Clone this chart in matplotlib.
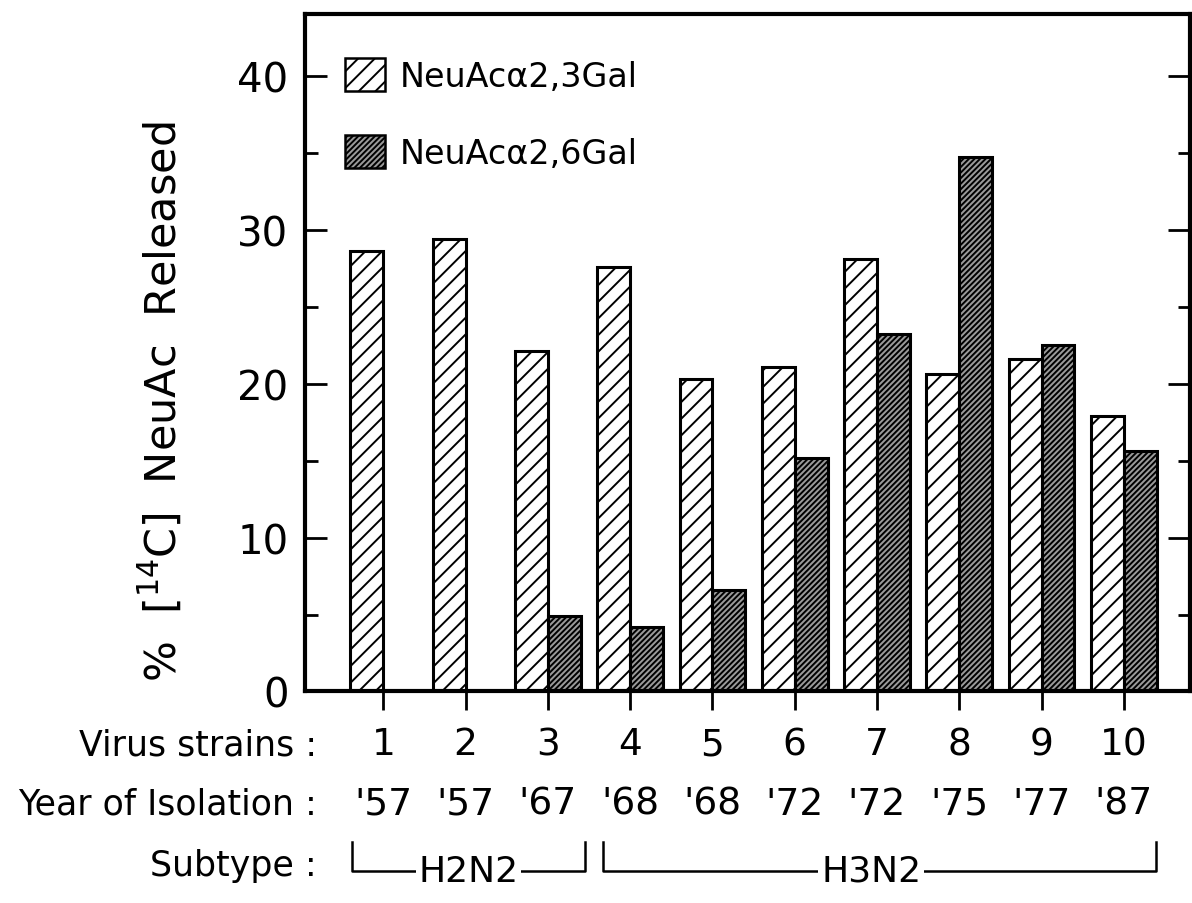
#!/usr/bin/env python3

import matplotlib
matplotlib.use("Agg")
import matplotlib.pyplot as plt
import matplotlib.patches as mpatches
import matplotlib.transforms as mtransforms
from matplotlib.ticker import MultipleLocator

# Data
strains = [1, 2, 3, 4, 5, 6, 7, 8, 9, 10]
years = ["'57", "'57", "'67", "'68", "'68", "'72", "'72", "'75", "'77", "'87"]
neuac_23 = [28.6, 29.4, 22.1, 27.6, 20.3, 21.1, 28.1, 20.6, 21.6, 17.9]
neuac_26 = [0.0, 0.0, 4.9, 4.2, 6.6, 15.2, 23.2, 34.7, 22.5, 15.6]
subtypes = ["H2N2", "H3N2"]
subtype_spans = [(0.62, 3.45), (3.67, 10.39)]

BAR_W = 0.4
DARK = "#9a9a9a"


def main():
    plt.rcParams["font.family"] = "DejaVu Sans"
    plt.rcParams["hatch.linewidth"] = 1.4

    fig = plt.figure(figsize=(11.92, 9.04), dpi=100)
    ax = fig.add_axes([0.256, 0.234, 0.742, 0.749])

    x_light = [s - BAR_W / 2 for s in strains]
    x_dark = [s + BAR_W / 2 for s in strains]
    ax.bar(x_light, neuac_23, width=BAR_W, color="white", edgecolor="black",
           hatch="//", linewidth=2.2)
    ax.bar(x_dark, neuac_26, width=BAR_W, color=DARK, edgecolor="black",
           hatch="//////", linewidth=2.2)

    ax.set_xlim(0.05, 10.8)
    ax.set_ylim(0, 44)

    # y axis: ticks inside on both sides
    ax.yaxis.set_major_locator(MultipleLocator(10))
    ax.yaxis.set_minor_locator(MultipleLocator(5))
    ax.yaxis.set_ticks_position("both")
    ax.tick_params(axis="y", which="major", direction="in", length=16,
                   width=2, labelsize=29, pad=12)
    ax.tick_params(axis="y", which="minor", direction="in", length=9, width=2)

    ax.set_xticks(strains)
    ax.set_xticklabels([])
    ax.tick_params(axis="x", which="major", direction="out", length=14,
                   width=2, top=False)

    for sp in ax.spines.values():
        sp.set_linewidth(3)

    ax.set_ylabel(r"%  $\left[^{14}\mathrm{C}\right]$  NeuAc  Released",
                  fontsize=31)
    ax.yaxis.set_label_coords(-0.136, 0.43)

    # legend
    h1 = mpatches.Patch(facecolor="white", edgecolor="black", hatch="//",
                        linewidth=1.8)
    h2 = mpatches.Patch(facecolor=DARK, edgecolor="black", hatch="//////",
                        linewidth=1.8)
    ax.legend([h1, h2], ["NeuAc\u03b12,3Gal", "NeuAc\u03b12,6Gal"],
              loc="upper left", bbox_to_anchor=(0.045, 0.935), frameon=False,
              fontsize=24, handlelength=1.2, handleheight=1.15,
              handletextpad=0.45, labelspacing=1.25, borderpad=0,
              borderaxespad=0)

    # rows under the axis
    trans = mtransforms.blended_transform_factory(ax.transData, ax.transAxes)
    ftrans = mtransforms.blended_transform_factory(fig.transFigure, ax.transAxes)
    row_fs = 25
    rows_y = [-0.078, -0.166, -0.256]
    row_names = ["Virus strains :", "Year of Isolation :", "Subtype :"]
    for name, y in zip(row_names, rows_y):
        ax.text(0.266, y, name, transform=ftrans, ha="right", va="center",
                fontsize=row_fs, clip_on=False)

    for s, yr in zip(strains, years):
        ax.text(s, rows_y[0], str(s), transform=trans, ha="center",
                va="center", fontsize=row_fs + 2, clip_on=False)
        ax.text(s, rows_y[1], yr, transform=trans, ha="center",
                va="center", fontsize=row_fs + 2, clip_on=False)

    # subtype brackets
    y_top = -0.222
    y_bot = -0.265
    for name, (x0, x1) in zip(subtypes, subtype_spans):
        ax.plot([x0, x0, x1, x1], [y_top, y_bot, y_bot, y_top], color="black",
                lw=1.8, transform=trans, clip_on=False)
        ax.text((x0 + x1) / 2 - (0.0 if name == "H2N2" else 0.1), y_bot,
                name, transform=trans, ha="center", va="center",
                fontsize=row_fs + 1, clip_on=False,
                bbox=dict(facecolor="white", edgecolor="none", pad=2))

    fig.savefig("out.png", dpi=100)


if __name__ == "__main__":
    main()
